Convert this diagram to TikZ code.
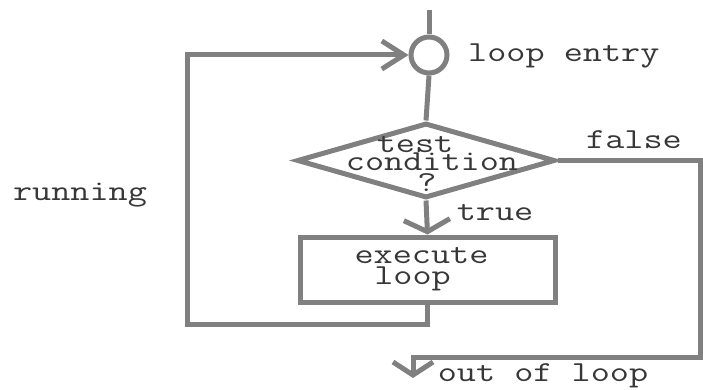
\documentclass[tikz,border=0pt]{standalone}
\usepackage{fontspec}
\newfontfamily\cour[FakeStretch=1.28]{Latin Modern Mono}
\usetikzlibrary{shapes.geometric,arrows.meta}
\definecolor{linegray}{RGB}{128,128,128}
\definecolor{textgray}{RGB}{55,55,55}
\newcommand{\padr}[1]{\makebox[#1]{}}
\begin{document}
\begin{tikzpicture}[x=1pt,y=1pt,
  line/.style={draw=linegray,line width=5pt},
  txt/.style={font=\cour\fontsize{29}{18}\selectfont,text=textgray,inner sep=0pt},
  entryc/.style={circle,draw=linegray,line width=5pt,minimum size=36pt,inner sep=0pt},
  condd/.style={diamond,draw=linegray,line width=5pt,minimum width=258pt,minimum height=75pt,inner sep=0pt},
  execb/.style={rectangle,draw=linegray,line width=5pt,minimum width=255pt,minimum height=65pt,align=center,
    font=\cour\fontsize{29}{21}\selectfont,text=textgray},
  arrV/.style={-{Straight Barb[length=22pt,width=28pt]}},
  arrflat/.style={-{Straight Barb[length=12pt,width=46pt]}},
  arrout/.style={-{Straight Barb[length=13pt,width=40pt]}}]
\useasboundingbox (0,0) rectangle (703,389);
\fill[white] (0,0) rectangle (703,389);
\node[entryc] (entry) at (429,334) {};
\node[condd, label={[txt,align=center,xshift=6pt,yshift=-3pt]center:{test\padr{34pt}\\condition\\[2pt]?\padr{10pt}}}] (cond) at (426,228.5) {};
\node[execb] (exec) at (427.5,119.5) {execute\padr{12pt}\\loop\padr{30pt}};
\coordinate (top) at (429,379);
\coordinate (loopbl) at (187,65);
\coordinate (fr) at (700,32);
\coordinate (exit) at (413,11);
\draw[line] (top) -- (entry.north);
\draw[line] (entry.south) -- (cond.north);
\draw[line,arrflat] (cond.south) -- (exec.north);
\draw[line,arrV] (exec.south) |- (loopbl) |- (entry.west);
\draw[line,arrout] (cond.east) -| (fr) -| (exit);
\node[txt,anchor=base west] (le) at (468,327) {loop entry};
\node[txt,anchor=base] (fl) at (634,241) {false};
\node[txt,anchor=base] (tr) at (495,169) {true};
\node[txt,anchor=base] (rn) at (80,189) {running};
\node[txt,anchor=base] (ol) at (543,8) {out of loop};
\end{tikzpicture}
\end{document}
